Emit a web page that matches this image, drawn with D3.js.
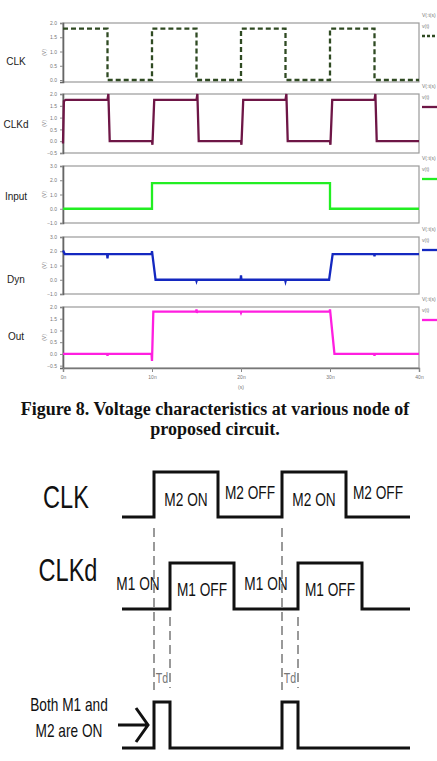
<!DOCTYPE html>
<html>
<head>
<meta charset="utf-8">
<script src="https://cdn.jsdelivr.net/npm/d3@7"></script>
<style>
  html, body { margin: 0; padding: 0; background: #fff; }
  svg { display: block; }
</style>
</head>
<body>
<svg width="437" height="761"></svg>
<script>
// ---------- data: simulated waveforms (time in ns, value in V) ----------
const timeTicks = [0, 10, 20, 30, 40];
const timeTickLabels = ['0n', '10n', '20n', '30n', '40n'];

const signalNames = ['CLK', 'CLKd', 'Input', 'Dyn', 'Out'];

const clkWave = [[0, 1.8], [5, 1.8], [5, 0], [10, 0], [10, 1.8], [15, 1.8], [15, 0], [20, 0],
  [20, 1.8], [25, 1.8], [25, 0], [30, 0], [30, 1.8], [35, 1.8], [35, 0], [40, 0]];

const clkdWave = [[0, -0.1], [0.1, 1.7], [0.3, 1.75], [5, 1.75], [5.1, 2.0], [5.25, 0], [10, 0],
  [10.05, -0.15], [10.25, 1.75], [15, 1.75], [15.1, 2.0], [15.25, 0], [20, 0], [20.05, -0.15],
  [20.25, 1.75], [25, 1.75], [25.1, 2.0], [25.25, 0], [30, 0], [30.05, -0.15], [30.25, 1.75],
  [35, 1.75], [35.1, 2.0], [35.25, 0], [40, 0]];

const inputWave = [[0, 0], [10, 0], [10, 1.8], [30, 1.8], [30, 0], [40, 0]];

const dynWave = [[0, 2.05], [0.2, 1.8], [4.95, 1.8], [5, 1.5], [5.05, 1.8], [9.95, 1.8], [10, 2.0],
  [10.4, 0], [14.95, 0], [15, -0.1], [15.05, 0], [19.95, 0], [20, 0.3], [20.05, 0], [24.95, 0],
  [25, -0.12], [25.05, 0], [29.9, 0], [30.3, 1.8], [34.95, 1.8], [35, 1.65], [35.05, 1.8], [40, 1.8]];

const outWave = [[0, 0], [4.95, 0], [5, -0.08], [5.05, 0], [9.95, 0], [10, -0.3], [10.15, 1.8],
  [14.95, 1.8], [15, 1.9], [15.05, 1.75], [15.1, 1.8], [19.95, 1.8], [20, 1.75], [20.05, 1.8],
  [29.95, 1.8], [30, 1.9], [30.5, 0], [34.95, 0], [35, -0.08], [35.05, 0], [40, 0]];

const yTicks = [
  [0, 0.5, 1.0, 1.5, 2.0],
  [-0.5, 0, 0.5, 1.0, 1.5, 2.0],
  [-1, 0, 1, 2, 3],
  [-1, 0, 1, 2, 3],
  [-0.5, 0, 0.5, 1.0, 1.5, 2.0]
];
const yDomains = [[-0.07, 2.0], [-0.5, 2.0], [-1, 3], [-1, 3], [-0.6, 2.0]];
const waves = [clkWave, clkdWave, inputWave, dynWave, outWave];

// ---------- data: timing diagram (time in half-period units, logic level 0/1) ----------
const diagramNames = ['CLK', 'CLKd'];
const clkLogic = [[0, 0], [1, 0], [1, 1], [3, 1], [3, 0], [5, 0], [5, 1], [7, 1], [7, 0], [9, 0]];
const clkdLogic = [[0, 0], [1.5, 0], [1.5, 1], [3.5, 1], [3.5, 0], [5.5, 0], [5.5, 1], [7.5, 1], [7.5, 0], [9, 0]];
const overlapLogic = [[0, 0], [1, 0], [1, 1], [1.5, 1], [1.5, 0], [5, 0], [5, 1], [5.5, 1], [5.5, 0], [9, 0]];
const clkStates = [[2, 'M2 ON'], [4, 'M2 OFF'], [6, 'M2 ON'], [8, 'M2 OFF']];
const clkdStates = [[0.5, 'M1 ON'], [2.5, 'M1 OFF'], [4.5, 'M1 ON'], [6.5, 'M1 OFF']];
const clkEdges = [1, 5];
const clkdEdges = [1.5, 5.5];

// ---------- layout / style ----------
const svg = d3.select('svg');
const sans = '"Liberation Sans", Arial, sans-serif';

const panelTops = [23, 94, 166, 237, 307];
const panelBottoms = [82, 153, 223, 294, 368];
const colors = ['#2f4a22', '#6e1646', '#22ee22', '#1428c0', '#ff1ee0'];
const labelY = [61, 124, 196, 279, 336];

const x = d3.scaleLinear().domain([0, 40]).range([63, 419]);

waves.forEach((wave, i) => {
  const top = panelTops[i], bottom = panelBottoms[i];
  const y = d3.scaleLinear().domain(yDomains[i]).range([bottom, top]);
  const g = svg.append('g');

  // frame
  g.append('rect')
    .attr('x', x(0)).attr('y', top)
    .attr('width', x(40) - x(0)).attr('height', bottom - top)
    .attr('fill', 'none').attr('stroke', '#9a9a9a').attr('stroke-width', 1.2);

  // y axis
  const ax = g.append('g')
    .attr('transform', `translate(${x(0)},0)`)
    .call(d3.axisLeft(y).tickValues(yTicks[i]).tickSize(3).tickFormat(d3.format('.1f')));
  ax.select('.domain').attr('stroke', '#666').attr('stroke-width', 1.6);
  ax.selectAll('.tick line').attr('stroke', '#888');
  ax.selectAll('text').attr('fill', '#777').style('font-size', '5px').style('font-family', 'Arial, sans-serif');

  // unit label
  g.append('text')
    .attr('transform', `translate(46,${(top + bottom) / 2}) rotate(-90)`)
    .attr('text-anchor', 'middle')
    .style('font-size', '5px').style('font-family', 'Arial, sans-serif').attr('fill', '#888')
    .text('(V)');

  // signal name
  svg.append('text')
    .attr('x', 16).attr('y', labelY[i] + 3.5)
    .attr('text-anchor', 'middle')
    .style('font-size', '10px').style('font-family', sans)
    .attr('fill', '#222')
    .text(signalNames[i]);

  // waveform
  g.append('path')
    .datum(wave)
    .attr('d', d3.line().x(d => x(d[0])).y(d => y(d[1])))
    .attr('fill', 'none')
    .attr('stroke', colors[i])
    .attr('stroke-width', 2.3)
    .attr('stroke-dasharray', i === 0 ? '5,3' : null);

  // legend at right
  g.append('text').attr('x', 422).attr('y', top - 6)
    .style('font-size', '5px').style('font-family', 'Arial, sans-serif').attr('fill', '#777')
    .text('V(:t(s)');
  g.append('text').attr('x', 422).attr('y', top + 5)
    .style('font-size', '5px').style('font-family', 'Arial, sans-serif').attr('fill', '#777')
    .text('v(t)');
  g.append('line')
    .attr('x1', 422).attr('x2', 437).attr('y1', top + 13).attr('y2', top + 13)
    .attr('stroke', colors[i]).attr('stroke-width', 2.3)
    .attr('stroke-dasharray', i === 0 ? '3,2' : null);

  // time axis under the last panel
  if (i === waves.length - 1) {
    const bx = g.append('g')
      .attr('transform', `translate(0,${bottom})`)
      .call(d3.axisBottom(x).tickValues(timeTicks).tickSize(4)
        .tickFormat((d, k) => timeTickLabels[k]));
    bx.select('.domain').attr('stroke', '#777').attr('stroke-width', 1.4);
    bx.selectAll('.tick line').attr('stroke', '#888');
    bx.selectAll('text').attr('fill', '#777').style('font-size', '5px').style('font-family', 'Arial, sans-serif');
    g.append('text')
      .attr('x', x(20)).attr('y', bottom + 21)
      .attr('text-anchor', 'middle')
      .style('font-size', '5px').style('font-family', 'Arial, sans-serif').attr('fill', '#777')
      .text('(s)');
  }
});

// ---------- caption ----------
const caption = svg.append('text')
  .attr('text-anchor', 'middle')
  .style('font-family', '"Liberation Serif", "Times New Roman", serif')
  .style('font-weight', 'bold')
  .style('font-size', '18px')
  .attr('fill', '#111');
caption.append('tspan').attr('x', 215).attr('y', 415).text('Figure 8. Voltage characteristics at various node of');
caption.append('tspan').attr('x', 215).attr('y', 435).text('proposed circuit.');

// ---------- timing diagram ----------
const tx = d3.scaleLinear().domain([0, 9]).range([122, 410]);
const rows = [
  { data: clkLogic, low: 517, high: 472 },
  { data: clkdLogic, low: 609, high: 563 },
  { data: overlapLogic, low: 748, high: 702 }
];

// condensed label: regular sans squeezed horizontally
function narrowText(px, py, size, txt, fill) {
  return svg.append('text')
    .attr('transform', `translate(${px},${py}) scale(0.76,1)`)
    .attr('text-anchor', 'middle')
    .style('font-family', sans).style('font-size', size + 'px')
    .attr('fill', fill || '#111')
    .text(txt);
}

// dashed guide lines
const guide = svg.append('g').attr('stroke', '#808080').attr('stroke-width', 1.6).attr('stroke-dasharray', '9,5');
clkEdges.forEach(t => {
  guide.append('line').attr('x1', tx(t)).attr('x2', tx(t)).attr('y1', 528).attr('y2', 690);
});
clkdEdges.forEach(t => {
  guide.append('line').attr('x1', tx(t)).attr('x2', tx(t)).attr('y1', 617).attr('y2', 688);
});

rows.forEach(r => {
  const ry = d3.scaleLinear().domain([0, 1]).range([r.low, r.high]);
  svg.append('path')
    .datum(r.data)
    .attr('d', d3.line().x(d => tx(d[0])).y(d => ry(d[1])))
    .attr('fill', 'none')
    .attr('stroke', '#111')
    .attr('stroke-width', 3)
    .attr('stroke-linejoin', 'miter');
});

// row titles
narrowText(66, 508, 31, diagramNames[0]);
narrowText(68, 581, 31, diagramNames[1]);

// state labels
clkStates.forEach(([t, s], k) => narrowText(tx(t), k % 2 === 0 ? 506 : 499, 18, s));
clkdStates.forEach(([t, s], k) => narrowText(tx(t), k % 2 === 0 ? 590 : 596, 18, s));

// Td labels
clkEdges.forEach(t => narrowText((tx(t) + tx(t + 0.5)) / 2, 683, 14, 'Td', '#777'));

// overlap note and arrow
narrowText(69, 711, 18, 'Both M1 and');
narrowText(69, 737, 18, 'M2 are ON');

svg.append('path')
  .attr('d', 'M118,725 H148 M136,708 L148,725 L136,742')
  .attr('fill', 'none').attr('stroke', '#111').attr('stroke-width', 3);
</script>
</body>
</html>
